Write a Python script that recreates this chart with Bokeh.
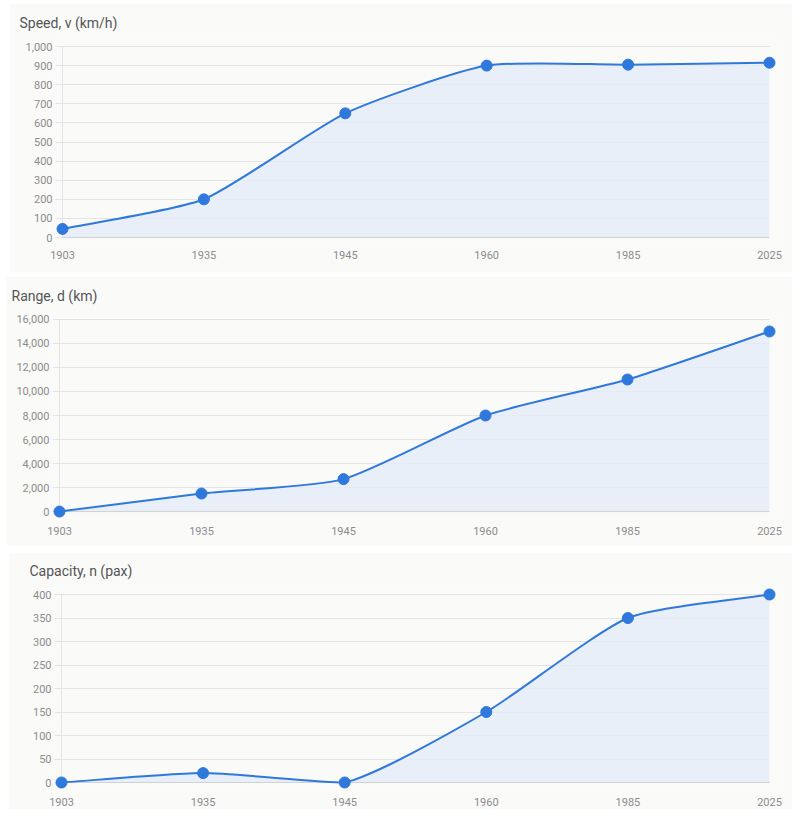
import math
import numpy as np
from bokeh.plotting import figure
from bokeh.layouts import column
from bokeh.models import FixedTicker, NumeralTickFormatter, Range1d
from bokeh.embed import file_html
from bokeh.resources import INLINE

# ---- data ----
years = ["1903", "1935", "1945", "1960", "1985", "2025"]
speed = [45, 200, 650, 900, 905, 915]
range_km = [0, 1500, 2700, 8000, 11000, 15000]
capacity = [0, 20, 0, 150, 350, 400]

titles = ["Speed, v (km/h)", "Range, d (km)", "Capacity, n (pax)"]
y_max = [1000, 16000, 400]
y_step = [100, 2000, 50]
series = [speed, range_km, capacity]

BG = "#fafaf9"
LINE = "#2f78dc"
FILL = "#e4ecf8"
GRID = "#e4e4e4"
AXIS = "#d2d2d2"
FONT = "Roboto"
PAD = 7        # px of breathing room so end markers are not clipped
TENSION = 0.2  # line smoothing
BL, BR = 46, 16  # left/right frame borders (shared: column aligns them)

# per panel: size, frame borders (t, b), margin (t, r, b, l), title offset / standoff, x label standoff
panels = [
    dict(w=783, h=269, bt=36, bb=28, margin=(3, 0, 0, 9), toff=-36, tst=18, xst=6),
    dict(w=786, h=270, bt=35, bb=28, margin=(4, 0, 0, 6), toff=-41, tst=18, xst=8),
    dict(w=784, h=257, bt=35, bb=20, margin=(6, 0, -6, 8), toff=-25, tst=17, xst=8),
]


def spline_controls(vals, dw, dh, ymax, t):
    """Chart.js-style spline control points, distances taken in pixel space."""
    n = len(vals)
    sx = dw / (n - 1)
    sy = dh / ymax
    px = [i * sx for i in range(n)]
    py = [v * sy for v in vals]
    ctrl = []
    for i in range(n):
        a = max(i - 1, 0)
        c = min(i + 1, n - 1)
        d01 = math.hypot(px[i] - px[a], py[i] - py[a])
        d12 = math.hypot(px[c] - px[i], py[c] - py[i])
        tot = d01 + d12
        s01 = d01 / tot if tot else 0
        s12 = d12 / tot if tot else 0
        fa, fb = t * s01, t * s12
        pvx = px[i] - fa * (px[c] - px[a])
        pvy = py[i] - fa * (py[c] - py[a])
        nxx = px[i] + fb * (px[c] - px[a])
        nxy = py[i] + fb * (py[c] - py[a])
        cx = lambda v: min(max(v, 0), dw) / sx
        cy = lambda v: min(max(v, 0), dh) / sy
        ctrl.append(((cx(pvx), cy(pvy)), (cx(nxx), cy(nxy))))
    return ctrl


figs = []
for k in range(3):
    cfg = panels[k]
    vals = series[k]
    idx = list(range(len(years)))
    nseg = len(years) - 1
    fw = cfg["w"] - BL - BR
    fh = cfg["h"] - cfg["bt"] - cfg["bb"]
    dw, dh = fw - 2 * PAD, fh - 2 * PAD
    padx = PAD * nseg / dw
    pady = PAD * y_max[k] / dh

    p = figure(
        width=cfg["w"], height=cfg["h"],
        x_range=Range1d(-padx, nseg + padx), y_range=Range1d(-pady, y_max[k] + pady),
        output_backend="svg", toolbar_location=None,
        min_border_left=BL, min_border_right=BR,
        min_border_top=cfg["bt"], min_border_bottom=cfg["bb"],
        background_fill_color=BG, border_fill_color=BG,
        outline_line_color=None, margin=cfg["margin"],
    )
    p.title.text = titles[k]
    p.title.align = "left"
    p.title.offset = cfg["toff"]
    p.title.standoff = cfg["tst"]
    p.title.text_font = FONT
    p.title.text_font_size = "14px"
    p.title.text_font_style = "normal"
    p.title.text_color = "#555555"

    ticks = list(range(0, y_max[k] + 1, y_step[k]))
    p.xgrid.visible = False
    g = p.ygrid[0]
    g.grid_line_color = GRID
    g.ticker = FixedTicker(ticks=ticks)
    if "cross_bounds" in g.properties():
        g.cross_bounds = (-(PAD + 1) * nseg / dw, nseg)

    ctrl = spline_controls(vals, dw, dh, y_max[k], TENSION)

    # sampled curve for the filled area
    xs, ys = [], []
    tt = np.linspace(0, 1, 40)
    for i in range(nseg):
        P0 = np.array([idx[i], vals[i]], float)
        C0 = np.array(ctrl[i][1])
        C1 = np.array(ctrl[i + 1][0])
        P1 = np.array([idx[i + 1], vals[i + 1]], float)
        for t_ in tt:
            b = ((1 - t_) ** 3) * P0 + 3 * ((1 - t_) ** 2) * t_ * C0 + 3 * (1 - t_) * t_ ** 2 * C1 + t_ ** 3 * P1
            xs.append(b[0]); ys.append(b[1])
    p.varea(x=xs, y1=[0] * len(xs), y2=ys, fill_color=FILL, fill_alpha=0.85)

    # axis lines (y axis at first category, x axis at zero)
    p.segment(x0=[idx[0]], y0=[0], x1=[idx[0]], y1=[y_max[k]], line_color=GRID, line_width=1)
    p.segment(x0=[idx[0]], y0=[0], x1=[idx[-1]], y1=[0], line_color=AXIS, line_width=1)

    p.bezier(
        x0=idx[:-1], y0=vals[:-1], x1=idx[1:], y1=vals[1:],
        cx0=[ctrl[i][1][0] for i in range(nseg)],
        cy0=[ctrl[i][1][1] for i in range(nseg)],
        cx1=[ctrl[i + 1][0][0] for i in range(nseg)],
        cy1=[ctrl[i + 1][0][1] for i in range(nseg)],
        line_color=LINE, line_width=2,
    )
    p.scatter(x=idx, y=vals, size=11, fill_color=LINE, line_color=LINE)

    p.yaxis.ticker = FixedTicker(ticks=ticks)
    p.yaxis.formatter = NumeralTickFormatter(format="0,0")
    p.yaxis.major_label_standoff = 3

    p.xaxis.ticker = FixedTicker(ticks=idx)
    p.xaxis.major_label_overrides = {i: y for i, y in enumerate(years)}
    p.xaxis.major_label_standoff = cfg["xst"]

    for ax in (p.xaxis, p.yaxis):
        ax.axis_line_color = None
        ax.major_tick_line_color = None
        ax.major_tick_out = 0
        ax.major_tick_in = 0
        ax.minor_tick_line_color = None
        ax.minor_tick_out = 0
        ax.major_label_text_font = FONT
        ax.major_label_text_font_size = "11px"
        ax.major_label_text_color = "#8c8c8c"

    figs.append(p)

layout = column(*figs, spacing=0)
open("out.html", "w").write(file_html(layout, INLINE))
